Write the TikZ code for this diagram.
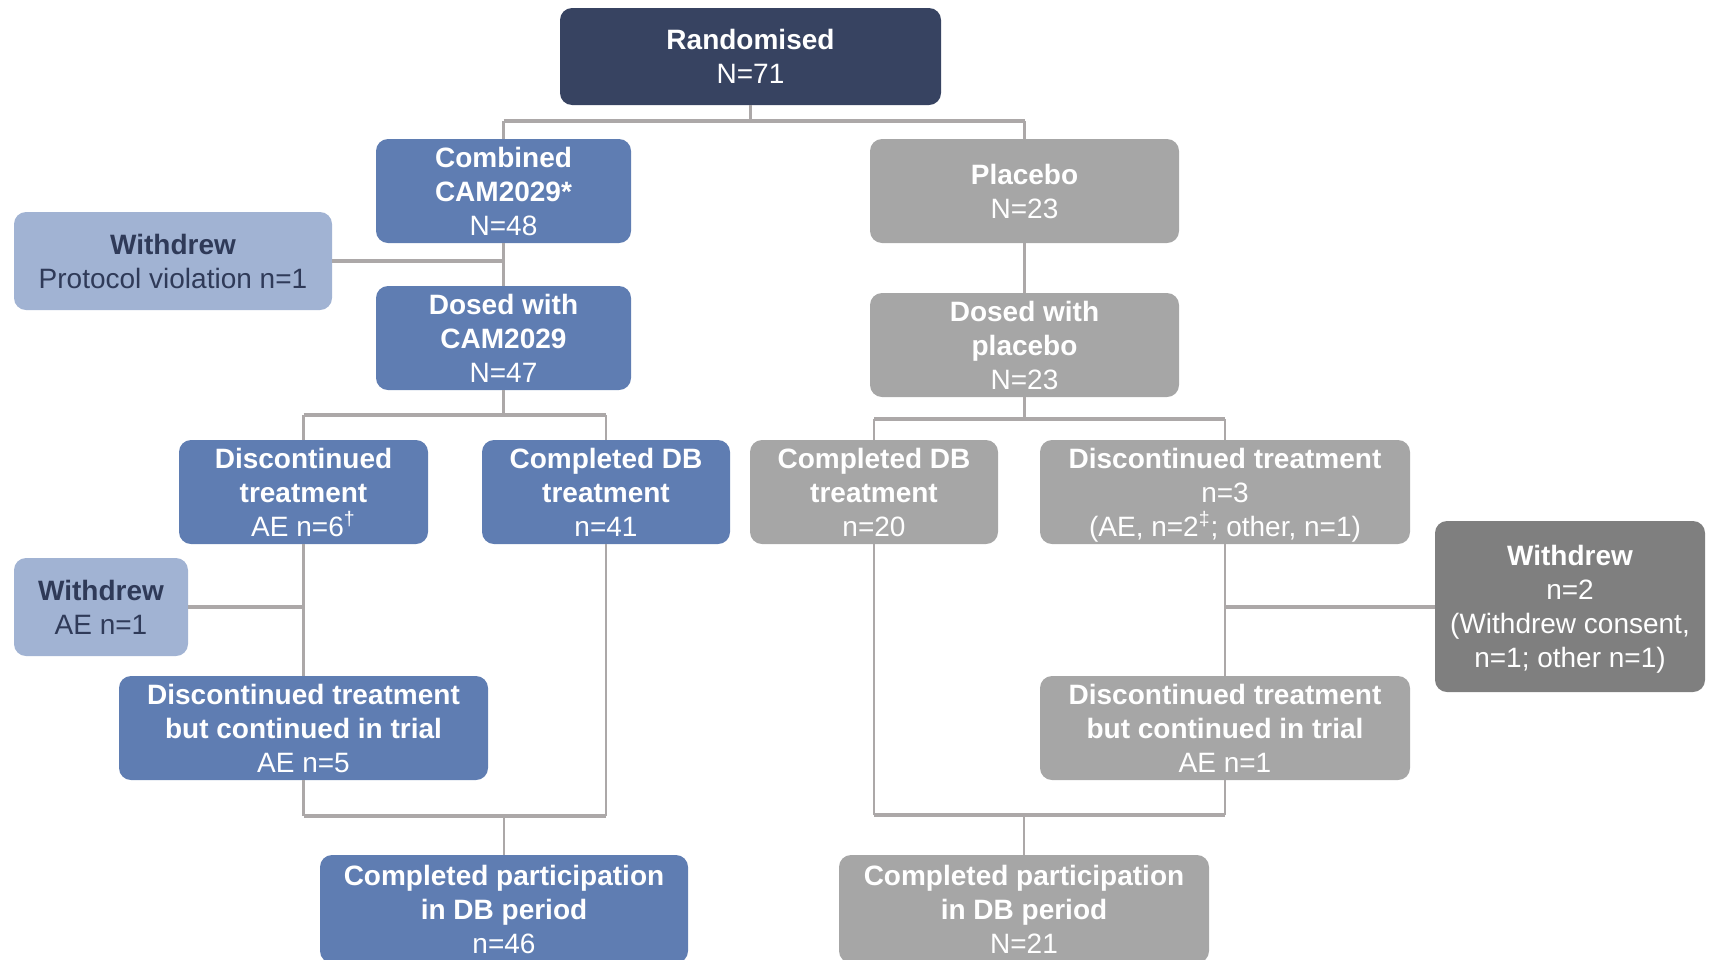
\documentclass[tikz,border=0pt]{standalone}
\usepackage{fontspec}
\setmainfont{Liberation Sans}
\usetikzlibrary{calc}
\definecolor{navy}{HTML}{374361}
\definecolor{bluebox}{HTML}{5F7DB2}
\definecolor{lightblue}{HTML}{A1B3D3}
\definecolor{graybox}{HTML}{A6A6A6}
\definecolor{darkgray}{HTML}{7F7F7F}
\definecolor{linecol}{HTML}{ACA8A8}
\definecolor{wdtext}{HTML}{2F3A58}
\tikzset{
  box/.style={rounded corners=6pt, inner sep=0pt, align=center, text=white,
    font=\fontsize{14}{17}\selectfont},
  navybox/.style={box, fill=navy},
  bbox/.style={box, fill=bluebox},
  lbbox/.style={box, fill=lightblue, text=wdtext},
  gbox/.style={box, fill=graybox},
  dgbox/.style={box, fill=darkgray},
  conn/.style={draw=linecol, line width=1.3pt},
  hconn/.style={draw=linecol, line width=2pt},
}
\begin{document}
\begin{tikzpicture}[x=0.5pt,y=-0.5pt]
\useasboundingbox (0,0) rectangle (1716,959);
\clip (0,0) rectangle (1716,959);
% nodes
\node[navybox, minimum width=190.5pt, minimum height=48.5pt] (rand) at (750.5,56.5) {\textbf{Randomised}\\N=71};
\node[bbox, minimum width=127.5pt, minimum height=52pt] (comb) at (503.5,191) {\textbf{Combined}\\\textbf{CAM2029*}\\N=48};
\node[gbox, minimum width=154.5pt, minimum height=52pt] (plac) at (1024.5,191) {\textbf{Placebo}\\N=23};
\node[lbbox, minimum width=159pt, minimum height=49pt] (wd1) at (173,261) {\textbf{Withdrew}\\Protocol violation n=1};
\node[bbox, minimum width=127.5pt, minimum height=52pt] (dose) at (503.5,338) {\textbf{Dosed with}\\\textbf{CAM2029}\\N=47};
\node[gbox, minimum width=154.5pt, minimum height=52pt] (dplac) at (1024.5,345) {\textbf{Dosed with}\\\textbf{placebo}\\N=23};
\node[bbox, minimum width=124.5pt, minimum height=52pt] (disc) at (303.5,492) {\textbf{Discontinued}\\\textbf{treatment}\\AE n=6\smash{\textsuperscript{†}}};
\node[bbox, minimum width=124pt, minimum height=52pt] (cdb) at (606,492) {\textbf{Completed DB}\\\textbf{treatment}\\n=41};
\node[gbox, minimum width=124pt, minimum height=52pt] (cdbg) at (874,492) {\textbf{Completed DB}\\\textbf{treatment}\\n=20};
\node[gbox, minimum width=185pt, minimum height=52pt] (discg) at (1225,492) {\textbf{Discontinued treatment}\\n=3\\\smash{(AE, n=2\textsuperscript{‡}; other, n=1)}};
\node[lbbox, minimum width=87pt, minimum height=49pt] (wd2) at (101,607) {\textbf{Withdrew}\\AE n=1};
\node[dgbox, minimum width=135pt, minimum height=85.5pt] (wd3) at (1570,606.5) {\textbf{Withdrew}\\n=2\\(Withdrew consent,\\\smash{n=1; other n=1)}};
\node[bbox, minimum width=184.5pt, minimum height=52pt] (dc) at (303.5,728) {\textbf{Discontinued treatment}\\\textbf{but continued in trial}\\AE n=5};
\node[gbox, minimum width=185pt, minimum height=52pt] (dcg) at (1225,728) {\textbf{Discontinued treatment}\\\textbf{but continued in trial}\\AE n=1};
\node[bbox, minimum width=184pt, minimum height=54pt] (cp) at (504,909) {\textbf{Completed participation}\\\textbf{in DB period}\\n=46};
\node[gbox, minimum width=185pt, minimum height=54pt] (cpg) at (1024,909) {\textbf{Completed participation}\\\textbf{in DB period}\\N=21};
% junctions
\coordinate (j1) at (750.5,121);
\coordinate (j2) at (503.5,415);
\coordinate (j3) at (1024.5,419);
\coordinate (j4) at (504,816);
\coordinate (j5) at (1024,815);
% connectors
\draw[conn] (rand.south) -- (j1);
\draw[hconn] (comb.north |- j1) -- (plac.north |- j1);
\draw[conn] (comb.north) -- (comb.north |- j1);
\draw[conn] (plac.north) -- (plac.north |- j1);
\draw[conn] (comb.south) -- (dose.north);
\draw[hconn] (wd1.east) -- (wd1.east -| comb.south);
\draw[conn] (plac.south) -- (dplac.north);
\draw[conn] (dose.south) -- (j2);
\draw[hconn] (disc.north |- j2) -- (cdb.north |- j2);
\draw[conn] (disc.north) -- (disc.north |- j2);
\draw[conn] (cdb.north) -- (cdb.north |- j2);
\draw[conn] (dplac.south) -- (j3);
\draw[hconn] (cdbg.north |- j3) -- (discg.north |- j3);
\draw[conn] (cdbg.north) -- (cdbg.north |- j3);
\draw[conn] (discg.north) -- (discg.north |- j3);
\draw[conn] (disc.south) -- (dc.north);
\draw[hconn] (wd2.east) -- (wd2.east -| disc.south);
\draw[conn] (discg.south) -- (dcg.north);
\draw[hconn] (wd3.west) -- (wd3.west -| discg.south);
\draw[conn] (dc.south) -- (dc.south |- j4);
\draw[conn] (cdb.south) -- (cdb.south |- j4);
\draw[hconn] (dc.south |- j4) -- (cdb.south |- j4);
\draw[conn] (j4) -- (cp.north);
\draw[conn] (cdbg.south) -- (cdbg.south |- j5);
\draw[conn] (dcg.south) -- (dcg.south |- j5);
\draw[hconn] (cdbg.south |- j5) -- (dcg.south |- j5);
\draw[conn] (j5) -- (cpg.north);
\end{tikzpicture}
\end{document}
